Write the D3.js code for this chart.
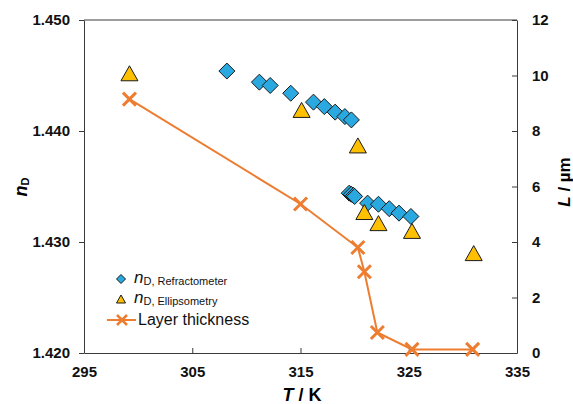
<!DOCTYPE html>
<html>
<head>
  <script src="https://d3js.org/d3.v7.min.js"></script>
  <style>
    body { margin: 0; background: #fff; }
    svg { font-family: "Liberation Sans", Arial, sans-serif; }
    .axis path, .axis line { stroke: #3a3a3a; stroke-width: 1px; }
    .axis text { font-size: 15px; font-weight: bold; fill: #111; }
  </style>
</head>
<body>
  <svg id="chart" width="573" height="404"></svg>
  <script>
    // refractometer series
    const refT = [308.2, 311.2, 312.2, 314.1, 316.2, 317.2, 318.2, 319.1, 319.7,
                  319.5, 319.7, 319.9, 320.0, 321.2, 322.2, 323.2, 324.1, 325.2];
    const refN = [1.4454, 1.4444, 1.4441, 1.4434, 1.4426, 1.4422, 1.4417, 1.4413, 1.4410,
                  1.4344, 1.4343, 1.4342, 1.4341, 1.4335, 1.4334, 1.4330, 1.4326, 1.4323];
    // ellipsometry series
    const ellT = [299.2, 315.1, 320.3, 320.9, 322.2, 325.3, 331.0];
    const ellN = [1.4452, 1.4419, 1.4387, 1.4327, 1.4317, 1.4310, 1.4290];
    // layer thickness (right axis)
    const thickT = [299.2, 315.0, 320.3, 320.9, 322.1, 325.3, 330.9];
    const thickL = [9.15, 5.37, 3.80, 2.93, 0.74, 0.13, 0.13];

    const xTicks = [295, 305, 315, 325, 335];
    const nTicks = [1.420, 1.430, 1.440, 1.450];
    const lTicks = [0, 2, 4, 6, 8, 10, 12];

    const svg = d3.select("#chart");
    const margin = { left: 84, right: 517, top: 20, bottom: 353 };

    const x = d3.scaleLinear().domain([295, 335]).range([margin.left, margin.right]);
    const yN = d3.scaleLinear().domain([1.420, 1.450]).range([margin.bottom, margin.top]);
    const yL = d3.scaleLinear().domain([0, 12]).range([margin.bottom, margin.top]);

    const blue = "#29a9df", gold = "#ffc000", orange = "#ed7d31";

    // axes
    svg.append("g").attr("class", "axis")
      .attr("transform", `translate(${margin.left},0)`)
      .call(d3.axisLeft(yN).tickValues(nTicks).tickFormat(d3.format(".3f")).tickSizeInner(5).tickSizeOuter(0).tickPadding(9));
    svg.append("g").attr("class", "axis")
      .attr("transform", `translate(0,${margin.bottom})`)
      .call(d3.axisBottom(x).tickValues(xTicks).tickSizeInner(-5).tickSizeOuter(0).tickPadding(13));
    svg.append("g").attr("class", "axis")
      .attr("transform", `translate(${margin.right},0)`)
      .call(d3.axisRight(yL).tickValues(lTicks).tickSizeInner(-5).tickSizeOuter(0).tickPadding(15));
    svg.append("line")
      .attr("x1", margin.left).attr("x2", margin.right)
      .attr("y1", margin.top).attr("y2", margin.top)
      .attr("stroke", "#3a3a3a");

    // axis titles
    const nTitle = svg.append("text")
      .attr("transform", "translate(27,187) rotate(-90)")
      .attr("text-anchor", "middle").attr("font-weight", "bold");
    nTitle.append("tspan").attr("font-style", "italic").attr("font-size", 18).text("n");
    nTitle.append("tspan").attr("font-size", 11).attr("dy", 2).text("D");

    const tTitle = svg.append("text")
      .attr("x", 302).attr("y", 401)
      .attr("text-anchor", "middle").attr("font-weight", "bold").attr("font-size", 18);
    tTitle.append("tspan").attr("font-style", "italic").text("T");
    tTitle.append("tspan").text(" / K");

    const lTitle = svg.append("text")
      .attr("transform", "translate(570,182) rotate(-90)")
      .attr("text-anchor", "middle").attr("font-weight", "bold").attr("font-size", 17);
    lTitle.append("tspan").attr("font-style", "italic").text("L");
    lTitle.append("tspan").text(" / µm");

    const diamond = s => `M0,${-s}L${s},0L0,${s}L${-s},0Z`;
    const triangle = (w, h) => `M0,${-h / 2}L${w / 2},${h / 2}L${-w / 2},${h / 2}Z`;

    // refractometer diamonds
    svg.append("g").selectAll("path").data(refT)
      .join("path")
      .attr("d", diamond(8))
      .attr("transform", (d, i) => `translate(${x(d)},${yN(refN[i])})`)
      .attr("fill", blue).attr("stroke", "#1a1a1a").attr("stroke-width", 1);

    // ellipsometry triangles
    svg.append("g").selectAll("path").data(ellT)
      .join("path")
      .attr("d", triangle(17, 15))
      .attr("transform", (d, i) => `translate(${x(d)},${yN(ellN[i])})`)
      .attr("fill", gold).attr("stroke", "#1a1a1a").attr("stroke-width", 1);

    // layer thickness line + crosses
    const thick = thickT.map((t, i) => [t, thickL[i]]);
    svg.append("path")
      .datum(thick)
      .attr("fill", "none").attr("stroke", orange).attr("stroke-width", 2)
      .attr("d", d3.line().x(d => x(d[0])).y(d => yL(d[1])));
    const cross = s => `M${-s},${-s}L${s},${s}M${-s},${s}L${s},${-s}`;
    svg.append("g").selectAll("path").data(thick)
      .join("path")
      .attr("d", cross(6.5))
      .attr("transform", d => `translate(${x(d[0])},${yL(d[1])})`)
      .attr("stroke", orange).attr("stroke-width", 3);

    // legend
    const lg = svg.append("g");
    lg.append("path").attr("d", diamond(4.5)).attr("transform", "translate(121,279)")
      .attr("fill", blue).attr("stroke", "#1a1a1a");
    lg.append("path").attr("d", triangle(9, 8)).attr("transform", "translate(121,299)")
      .attr("fill", gold).attr("stroke", "#1a1a1a");
    const r1 = lg.append("text").attr("x", 134).attr("y", 283).attr("fill", "#111");
    r1.append("tspan").attr("font-style", "italic").attr("font-size", 17).text("n");
    r1.append("tspan").attr("font-size", 11).attr("dy", 2).text("D, Refractometer");
    const r2 = lg.append("text").attr("x", 134).attr("y", 303).attr("fill", "#111");
    r2.append("tspan").attr("font-style", "italic").attr("font-size", 17).text("n");
    r2.append("tspan").attr("font-size", 11).attr("dy", 2).text("D, Ellipsometry");
    lg.append("line").attr("x1", 107).attr("x2", 136).attr("y1", 320).attr("y2", 320)
      .attr("stroke", orange).attr("stroke-width", 2);
    lg.append("path").attr("d", cross(5)).attr("transform", "translate(122,320)")
      .attr("stroke", orange).attr("stroke-width", 2.5);
    lg.append("text").attr("x", 138).attr("y", 325).attr("font-size", 16).attr("fill", "#111")
      .text("Layer thickness");
  </script>
</body>
</html>
